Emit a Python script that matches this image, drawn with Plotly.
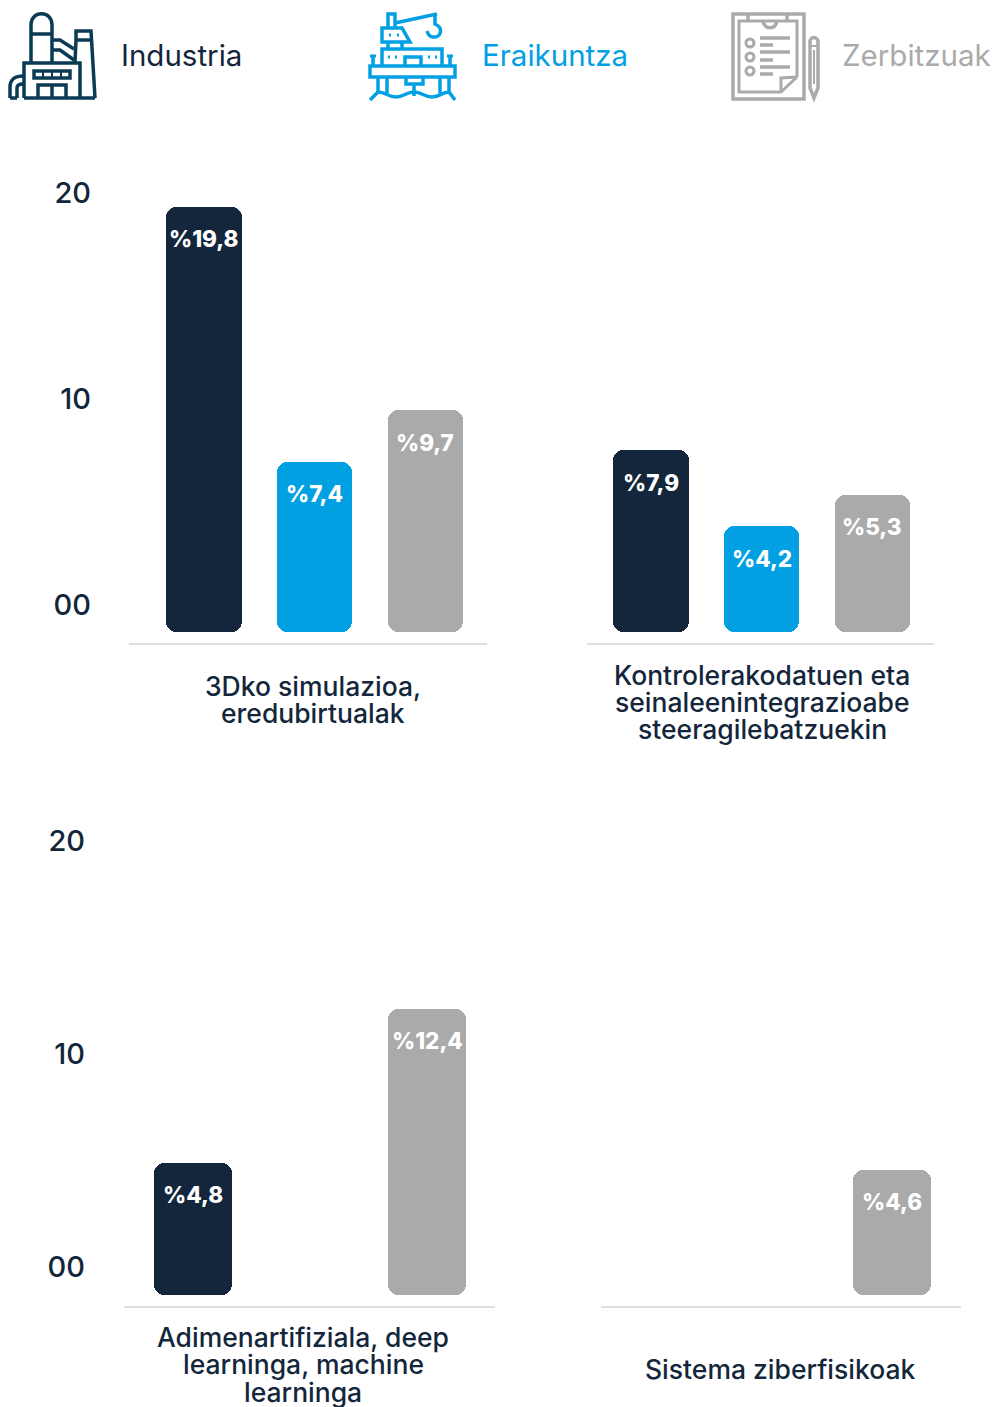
import plotly.graph_objects as go

W, H = 994, 1407
FONT = "Inter"
NAVY, BLUE, GRAY = "#13263b", "#00a0e3", "#aaaaaa"
ICON_NAVY = "#0b3a55"
BAR_COLORS = [NAVY, BLUE, GRAY]

# Data: bar tops, printed labels kept as shown
sector_names = ["Industria", "Eraikuntza", "Zerbitzuak"]
p1_tops = [19.3, 6.94, 9.42]
p2_tops = [7.48, 3.79, 5.34]
p3_tops = [4.88, None, 12.11]
p4_tops = [None, None, 4.55]
p1_labels = ["%19,8", "%7,4", "%9,7"]
p2_labels = ["%7,9", "%4,2", "%5,3"]
p3_labels = ["%4,8", "", "%12,4"]
p4_labels = ["", "", "%4,6"]
p1_title = ["3Dko simulazioa,", "eredubirtualak"]
p2_title = ["Kontrolerakodatuen eta", "seinaleenintegrazioabe", "steeragilebatzuekin"]
p3_title = ["Adimenartifiziala, deep", "learninga, machine", "learninga"]
p4_title = ["Sistema ziberfisikoak"]
tick_vals = [0, 10, 20]
tick_text = ["00", "10", "20"]


def px_x(x):
    return x / W


def px_y(y):
    return 1 - y / H


# layout of the panels, in pixels
panels = [
    dict(tops=p1_tops, labels=p1_labels, title=p1_title, left=129, right=487, top=170, bottom=643,
         first=204, step=110.7, width=75.5, zero=604.5, unit=20.6, floor=632, ticks=True, standoff=37,
         tx=313, ty=[686, 713]),
    dict(tops=p2_tops, labels=p2_labels, title=p2_title, left=587, right=934, top=170, bottom=643,
         first=651, step=110.7, width=75.5, zero=604.5, unit=20.6, floor=632, ticks=False, standoff=37,
         tx=762, ty=[675, 702, 729]),
    dict(tops=p3_tops, labels=p3_labels, title=p3_title, left=124, right=495, top=815, bottom=1306,
         first=193, step=117, width=78, zero=1266.5, unit=21.3, floor=1294.5, ticks=True, standoff=38,
         tx=303, ty=[1337, 1364, 1392]),
    dict(tops=p4_tops, labels=p4_labels, title=p4_title, left=601, right=961, top=815, bottom=1306,
         first=658, step=117, width=78, zero=1266.5, unit=21.3, floor=1294.5, ticks=False, standoff=38,
         tx=780, ty=[1369]),
]

fig = go.Figure()
annotations = []
for i, p in enumerate(panels):
    s = "" if i == 0 else str(i + 1)
    base = (p["zero"] - p["floor"]) / p["unit"]
    xs = [0, 1, 2]
    fig.add_trace(go.Bar(
        x=xs,
        y=[None if t is None else t - base for t in p["tops"]],
        base=base,
        width=p["width"] / p["step"],
        marker=dict(color=BAR_COLORS, line=dict(width=0)),
        xaxis="x" + s, yaxis="y" + s,
        hoverinfo="skip", showlegend=False,
    ))
    fig.layout["xaxis" + s] = dict(
        domain=[px_x(p["left"]), px_x(p["right"])], anchor="y" + s,
        range=[(p["left"] - p["first"]) / p["step"], (p["right"] - p["first"]) / p["step"]],
        showgrid=False, zeroline=False, showticklabels=False, ticks="",
        showline=True, linecolor="#dfdfdf", linewidth=2,
    )
    fig.layout["yaxis" + s] = dict(
        domain=[px_y(p["bottom"]), px_y(p["top"])], anchor="x" + s,
        range=[(p["zero"] - p["bottom"]) / p["unit"], (p["zero"] - p["top"]) / p["unit"]],
        showgrid=False, zeroline=False, showline=False, ticks="",
        showticklabels=p["ticks"], tickvals=tick_vals, ticktext=tick_text,
        ticklabelstandoff=p["standoff"],
        tickfont=dict(family=FONT, size=29, color=NAVY, weight=500),
    )
    for x, t, lab in zip(xs, p["tops"], p["labels"]):
        if t is None:
            continue
        annotations.append(dict(
            x=x, y=t, xref="x" + s, yref="y" + s, yshift=-32, text=lab, showarrow=False,
            font=dict(family=FONT, size=22.5, color="white", weight=800),
            xanchor="center", yanchor="middle",
        ))
    for line, y in zip(p["title"], p["ty"]):
        annotations.append(dict(
            x=px_x(p["tx"]), y=px_y(y), xref="paper", yref="paper", text=line, showarrow=False,
            font=dict(family=FONT, size=26.5, color=NAVY, weight=500),
            xanchor="center", yanchor="middle",
        ))

for name, x, col in zip(sector_names, [118.5, 480, 840], [NAVY, BLUE, GRAY]):
    annotations.append(dict(
        x=px_x(x), y=px_y(55), xref="paper", yref="paper", text=name, showarrow=False,
        font=dict(family=FONT, size=29.5, color=col, weight=400),
        xanchor="left", yanchor="middle",
    ))


# header pictograms, described in page pixels
def conv(cmds):
    out = []
    for c in cmds:
        if isinstance(c, str):
            out.append(c)
        else:
            out.append(f"{px_x(c[0]):.5f},{px_y(c[1]):.5f}")
    return " ".join(out)


def stroke(cmds, color, w=3.5, fill=None):
    d = dict(type="path", xref="paper", yref="paper", path=conv(cmds),
             line=dict(color=color, width=w))
    if fill:
        d["fillcolor"] = fill
    return d


def poly(points, color, w=3.5, close=False):
    cmds = []
    for j, pt in enumerate(points):
        cmds += ["M" if j == 0 else "L", pt]
    if close:
        cmds.append("Z")
    return stroke(cmds, color, w)


def ring(cx, cy, r, color, w=3):
    k = r * 0.5523
    return stroke(["M", (cx - r, cy),
                   "C", (cx - r, cy - k), (cx - k, cy - r), (cx, cy - r),
                   "C", (cx + k, cy - r), (cx + r, cy - k), (cx + r, cy),
                   "C", (cx + r, cy + k), (cx + k, cy + r), (cx, cy + r),
                   "C", (cx - k, cy + r), (cx - r, cy + k), (cx - r, cy), "Z"], color, w)


shapes = []
c = ICON_NAVY
shapes += [
    stroke(["M", (31, 62), "L", (31, 25), "C", (31, 10), (52, 10), (52, 25), "L", (52, 62)], c),
    poly([(31, 34), (52, 34)], c),
    poly([(76, 40), (76, 31), (91, 31), (95, 98)], c),
    poly([(76, 40), (92, 40)], c),
    poly([(76, 40), (75, 62)], c),
    poly([(53, 40), (60, 40), (74, 49)], c),
    poly([(53, 50), (60, 50), (74, 60)], c),
    poly([(24, 98), (24, 63), (80, 63), (80, 98)], c),
    poly([(24, 98), (95, 98)], c),
    poly([(34, 71), (70, 71), (70, 78), (34, 78)], c, close=True),
    poly([(43, 71), (43, 78)], c, 2), poly([(52, 71), (52, 78)], c, 2), poly([(61, 71), (61, 78)], c, 2),
    poly([(38, 98), (38, 85), (66, 85), (66, 98)], c),
    poly([(52, 85), (52, 98)], c),
    stroke(["M", (10, 98), "L", (10, 87), "C", (10, 79), (16, 76), (23, 76)], c),
    stroke(["M", (17, 98), "L", (17, 88), "C", (17, 85), (20, 84), (23, 84)], c),
    poly([(10, 98), (17, 98)], c),
]
c = BLUE
shapes += [
    poly([(370, 66), (455, 66), (455, 77), (370, 77)], c, close=True),
    poly([(382, 66), (382, 49), (442, 49), (442, 66)], c),
    poly([(405, 66), (405, 57), (421, 57), (421, 66)], c),
    poly([(382, 28), (402, 28), (410, 42), (382, 42)], c, close=True),
    poly([(388, 42), (388, 49)], c), poly([(402, 42), (402, 49)], c),
    poly([(388, 28), (388, 14), (395, 14), (395, 28)], c),
    poly([(395, 23), (437, 14)], c),
    stroke(["M", (435, 15), "L", (435, 24), "C", (444, 28), (441, 38), (433, 37),
            "C", (430, 37), (428, 34), (427, 31)], c),
    poly([(373, 66), (373, 55)], c), poly([(450, 66), (450, 55)], c),
    poly([(370, 56), (376, 56)], c, 3), poly([(447, 56), (453, 56)], c, 3),
    poly([(378, 77), (378, 93)], c), poly([(387, 77), (387, 93)], c),
    poly([(440, 77), (440, 93)], c), poly([(449, 77), (449, 93)], c),
    poly([(406, 77), (406, 84), (423, 84), (423, 77)], c),
    poly([(414, 84), (414, 96)], c),
    stroke(["M", (370, 100), "L", (378, 92), "C", (386, 92), (388, 97), (396, 97),
            "C", (404, 97), (406, 92), (414, 92), "C", (422, 92), (424, 97), (432, 97),
            "C", (440, 97), (442, 92), (449, 92), "L", (455, 100)], c),
    poly([(389, 35), (391, 35)], c, 3), poly([(397, 35), (399, 35)], c, 3),
    poly([(388, 57), (390, 57)], c, 3), poly([(395, 57), (397, 57)], c, 3),
    poly([(428, 57), (430, 57)], c, 3), poly([(435, 57), (437, 57)], c, 3),
]
c = GRAY
shapes += [
    poly([(733, 14), (804, 14), (804, 99), (733, 99)], c, 3.5, close=True),
    poly([(797, 77), (797, 21), (739, 21), (739, 92), (781, 92), (797, 77)], c, 3),
    poly([(781, 92), (781, 78), (797, 77)], c, 3),
    poly([(748, 14), (748, 21)], c), poly([(787, 14), (787, 21)], c),
    stroke(["M", (763, 21), "C", (765, 30), (775, 30), (777, 21)], c),
    ring(750, 43, 4, c), ring(750, 57, 4, c), ring(750, 71, 4, c),
    poly([(760, 38), (790, 38)], c), poly([(760, 45), (773, 45)], c),
    poly([(760, 52), (790, 52)], c), poly([(760, 60), (773, 60)], c),
    poly([(760, 67), (790, 67)], c), poly([(760, 74), (773, 74)], c),
    stroke(["M", (810, 88), "L", (810, 42), "C", (810, 36), (818, 36), (818, 42),
            "L", (818, 88), "L", (814, 98), "Z"], c),
    poly([(810, 46), (818, 46)], c, 2), poly([(814, 50), (814, 84)], c, 2),
]

fig.update_layout(
    width=W, height=H,
    margin=dict(l=0, r=0, t=0, b=0, pad=0),
    paper_bgcolor="white", plot_bgcolor="white",
    barcornerradius=10, bargap=0,
    showlegend=False,
    annotations=annotations,
    shapes=shapes,
    font=dict(family=FONT),
)
fig.write_html(
    "out.html",
    config=dict(displayModeBar=False),
    post_script="document.body.style.margin='0';document.documentElement.style.overflow='hidden';",
)
